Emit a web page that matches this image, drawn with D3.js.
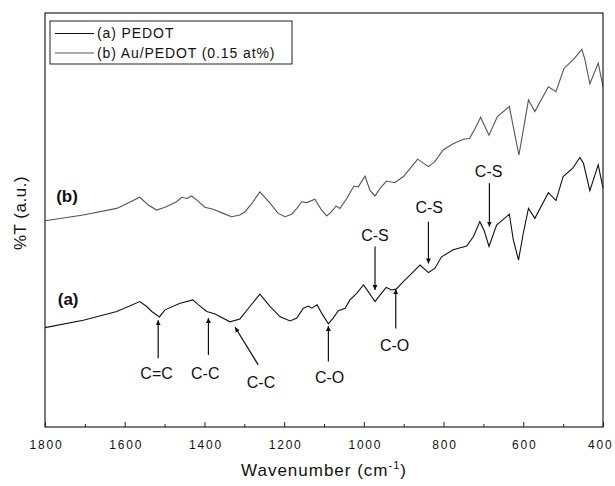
<!DOCTYPE html>
<meta charset="utf-8">
<style>
body { margin: 0; background: #fff; }
svg { font-family: "Liberation Sans", Arial, sans-serif; }
.frame { fill: none; stroke: #222; stroke-width: 1.2; }
.tick line { stroke: #222; }
.tick text { font-size: 12px; letter-spacing: 1.8px; fill: #111; }
.curve { fill: none; stroke-width: 1.1; }
.ann line { stroke: #111; stroke-width: 1.2; }
.ann text { font-size: 16px; fill: #111; text-anchor: middle; }
.legend text { font-size: 14px; letter-spacing: 0.9px; fill: #111; }
</style>
<svg id="chart" width="615" height="486"></svg>
<script src="https://d3js.org/d3.v7.min.js"></script>
<script>

// PEDOT spectrum (a) -- wavenumber / %T (a.u.)
var wnA = [1800, 1704, 1620, 1562, 1545, 1532, 1513, 1499, 1461, 1429, 1415, 1394, 1373, 1336, 1311,
  1286, 1261, 1235, 1210, 1185, 1168, 1152, 1139, 1131, 1117, 1106, 1089, 1077, 1064, 1047, 1035,
  1018, 1001, 989, 972, 959, 944, 930, 919, 901, 880, 859, 838, 822, 805, 776, 742, 725, 709, 698,
  686, 667, 635, 625, 612, 600, 587, 571, 537, 518, 500, 476, 458, 449, 433, 412, 400];
var tA = [24.0, 25.8, 27.9, 30.3, 29.1, 27.9, 26.6, 28.3, 29.9, 30.7, 29.5, 27.9, 27.3, 25.4, 26.1,
  29.1, 32.1, 29.1, 26.6, 25.6, 26.3, 28.7, 29.2, 28.7, 29.5, 27.5, 24.9, 26.3, 28.1, 28.7, 30.7,
  32.3, 34.3, 32.7, 30.3, 31.9, 33.7, 33.1, 33.3, 35.1, 37.1, 39.1, 37.3, 38.3, 41.1, 42.8, 43.7, 46.0, 49.6, 47.4,
  43.6, 48.8, 51.4, 45.2, 40.3, 46.8, 52.8, 50.4, 56.6, 54.7, 60.5, 62.5, 65.1, 63.7, 57.1, 63.3, 57.7];

// Au/PEDOT spectrum (b)
var wnB = [1800, 1704, 1620, 1562, 1541, 1520, 1499, 1470, 1457, 1444, 1432, 1419, 1399, 1378, 1353,
  1332, 1311, 1298, 1281, 1261, 1235, 1215, 1198, 1181, 1168, 1156, 1143, 1123, 1106, 1093, 1081,
  1070, 1060, 1043, 1025, 1014, 997, 985, 972, 959, 943, 922, 901, 880, 865, 838, 822, 801, 776,
  750, 735, 721, 707, 696, 686, 665, 635, 625, 611, 600, 587, 571, 537, 518, 498, 474, 453, 445, 433, 412, 400];
var tB = [49.8, 51.2, 52.8, 55.5, 53.6, 52.4, 53.1, 54.4, 55.5, 55.2, 55.8, 54.8, 53.1, 52.6, 51.6,
  50.8, 51.2, 52.0, 54.0, 56.8, 54.0, 51.6, 50.8, 51.4, 52.8, 54.4, 54.2, 55.0, 52.4, 51.0, 52.0,
  53.4, 52.8, 55.2, 58.2, 58.0, 60.6, 57.2, 55.8, 57.7, 59.4, 59.0, 60.5, 62.9, 64.7, 62.9, 64.1, 66.9, 68.4,
  69.5, 69.7, 72.1, 74.8, 72.5, 70.5, 75.0, 77.4, 72.5, 65.7, 71.7, 79.0, 76.2, 82.2, 81.0, 86.6, 88.8, 91.2, 88.6, 82.9, 87.9, 82.2];

var xTicks = [1800, 1600, 1400, 1200, 1000, 800, 600, 400];
var xMinor = [1700, 1500, 1300, 1100, 900, 700, 500];

var seriesNames = ["(a) PEDOT", "(b) Au/PEDOT (0.15 at%)"];
var seriesColors = ["#111", "#555"];

// peak assignments: label, arrow tip, arrow tail, label position (wavenumber, %T)
var annLabels = ["C=C", "C-C", "C-C", "C-O", "C-O", "C-S", "C-S", "C-S"];
var annTip = [[1516, 25.8], [1390, 26.3], [1323, 24.1], [1089, 24.4], [920, 33.3], [972, 33.1], [838, 39.5], [685, 48.4]];
var annTail = [[1516, 16.6], [1390, 17.4], [1265, 15.0], [1089, 15.8], [920, 23.8], [972, 43.6], [838, 49.6], [685, 58.9]];
var annText = [[1520, 13.0], [1398, 13.0], [1258, 10.8], [1086, 12.1], [923, 19.8], [972, 46.4], [836, 53.1], [687, 61.8]];

var svg = d3.select("#chart"),
    margin = {left: 45, top: 13, right: 12, bottom: 59},
    width = 615 - margin.left - margin.right,
    height = 486 - margin.top - margin.bottom;

var x = d3.scaleLinear().domain([1800, 400]).range([0, width]);
var y = d3.scaleLinear().domain([0, 100]).range([height, 0]);

var g = svg.append("g").attr("transform", "translate(" + margin.left + "," + margin.top + ")");

svg.append("defs").append("marker")
    .attr("id", "head")
    .attr("viewBox", "0 0 10 10")
    .attr("refX", 10).attr("refY", 5)
    .attr("markerWidth", 5).attr("markerHeight", 6)
    .attr("markerUnits", "userSpaceOnUse")
    .attr("orient", "auto")
  .append("path").attr("d", "M0,0L10,5L0,10Z").attr("fill", "#111");

// bottom axis, ticks pointing inward
var xAxis = g.append("g")
    .attr("transform", "translate(0," + height + ")")
    .call(d3.axisBottom(x).tickValues(xTicks).tickSize(-5).tickPadding(13).tickFormat(d3.format("d")));
xAxis.select(".domain").remove();
xAxis.selectAll(".tick text").attr("dx", "1px");
// last label sits against the right edge
xAxis.selectAll(".tick text").filter(function(d) { return d === 400; })
    .attr("text-anchor", "end").attr("dx", "10px");

g.append("g")
    .attr("transform", "translate(0," + height + ")")
    .call(d3.axisBottom(x).tickValues(xMinor).tickSize(-3).tickFormat(""))
    .select(".domain").remove();

var line = d3.line()
    .x(function(d) { return x(d[0]); })
    .y(function(d) { return y(d[1]); });

var dataA = d3.zip(wnA, tA), dataB = d3.zip(wnB, tB);

g.append("path").datum(dataB).attr("class", "curve").attr("stroke", seriesColors[1]).attr("d", line);
g.append("path").datum(dataA).attr("class", "curve").attr("stroke", seriesColors[0]).attr("d", line);

g.append("rect").attr("class", "frame").attr("width", width).attr("height", height);

// curve tags
g.append("text").attr("x", x(1768)).attr("y", y(29.4)).text("(a)")
    .style("font-size", "17px").style("font-weight", "bold").attr("fill", "#111");
g.append("text").attr("x", x(1772)).attr("y", y(54.3)).text("(b)")
    .style("font-size", "17px").style("font-weight", "bold").attr("fill", "#111");

// annotations
var ann = g.append("g").attr("class", "ann");
annLabels.forEach(function(lbl, i) {
  ann.append("line")
      .attr("x1", x(annTail[i][0])).attr("y1", y(annTail[i][1]))
      .attr("x2", x(annTip[i][0])).attr("y2", y(annTip[i][1]))
      .attr("marker-end", "url(#head)");
  ann.append("text")
      .attr("x", x(annText[i][0])).attr("y", y(annText[i][1]))
      .attr("dy", "0.36em")
      .text(lbl);
});

// legend
var lg = g.append("g").attr("class", "legend").attr("transform", "translate(5,8)");
lg.append("rect").attr("width", 242).attr("height", 43)
    .attr("fill", "#fff").attr("stroke", "#222").attr("stroke-width", 1);
seriesNames.forEach(function(name, i) {
  lg.append("line").attr("x1", 5).attr("x2", 44)
      .attr("y1", 12.5 + i * 19.5).attr("y2", 12.5 + i * 19.5)
      .attr("stroke", seriesColors[i]).attr("stroke-width", 1.2);
  lg.append("text").attr("x", 47).attr("y", 17 + i * 19.5).text(name);
});

// axis titles
var xt = svg.append("text")
    .attr("x", margin.left + width / 2).attr("y", 476)
    .attr("text-anchor", "middle")
    .style("font-size", "17px").style("letter-spacing", "1px").attr("fill", "#111");
xt.append("tspan").text("Wavenumber (cm");
xt.append("tspan").attr("dy", "-7").style("font-size", "11px").text("-1");
xt.append("tspan").attr("dy", "7").text(")");

svg.append("text")
    .attr("transform", "translate(26," + 213 + ") rotate(-90)")
    .attr("text-anchor", "middle")
    .style("font-size", "17px").style("letter-spacing", "0.5px").attr("fill", "#111")
    .text("%T (a.u.)");

</script>
